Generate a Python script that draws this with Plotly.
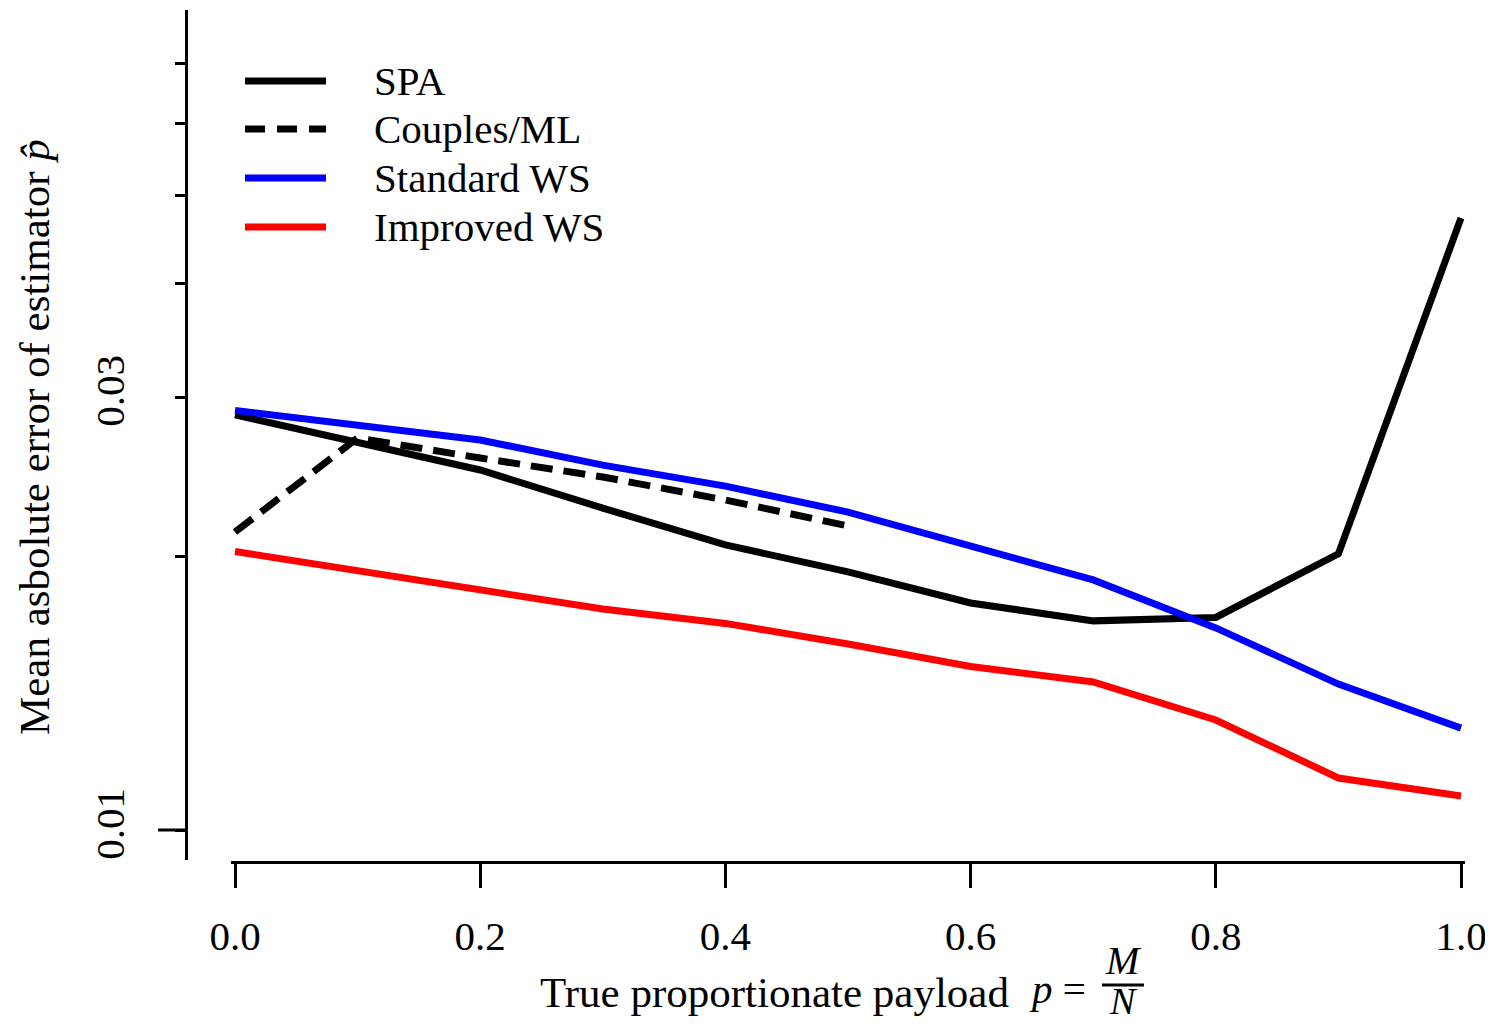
import plotly.graph_objects as go

# ---------------- data ----------------
payload = [0.0, 0.1, 0.2, 0.3, 0.4, 0.5, 0.6, 0.7, 0.8, 0.9, 1.0]
spa = [0.02867, 0.02676, 0.02493, 0.02263, 0.02061, 0.01925, 0.01779, 0.01700, 0.01715, 0.02015, 0.04725]
couples_x = [0.0, 0.1, 0.2, 0.3, 0.4, 0.5]
couples = [0.02130, 0.02704, 0.02570, 0.02449, 0.02310, 0.02163]
standard_ws = [0.02900, 0.02795, 0.02690, 0.02524, 0.02393, 0.02240, 0.02056, 0.01886, 0.01670, 0.01448, 0.01295]
improved_ws = [0.02027, 0.01930, 0.01839, 0.01752, 0.01689, 0.01603, 0.01514, 0.01456, 0.01322, 0.01141, 0.01090]

x_ticks = [0.0, 0.2, 0.4, 0.6, 0.8, 1.0]
x_ticktext = ["0.0", "0.2", "0.4", "0.6", "0.8", "1.0"]
y_ticks = [0.01, 0.03]
y_ticktext = ["0.01", "0.03"]
y_minor = [0.02, 0.04, 0.05, 0.06, 0.07]

series_names = ["SPA", "Couples/ML", "Standard WS", "Improved WS"]
series_colors = ["black", "black", "#0000ff", "#ff0000"]
series_dash = ["solid", "22px,11px", "solid", "solid"]

# ---------------- layout helpers ----------------
OFF = 8                      # default page body margin
W, H = 1493 - OFF, 1027 - OFF
FONT = "Liberation Serif"
FS = 41
FS_TITLE = 43


def px(x):
    return (x - OFF) / W


def py(y):
    return 1 - (y - OFF) / H


fig = go.Figure()
fig.add_trace(go.Scatter(x=payload, y=spa, mode="lines", name=series_names[0],
                         line=dict(color=series_colors[0], width=7, dash=series_dash[0])))
fig.add_trace(go.Scatter(x=couples_x, y=couples, mode="lines", name=series_names[1],
                         line=dict(color=series_colors[1], width=7, dash=series_dash[1])))
fig.add_trace(go.Scatter(x=payload, y=standard_ws, mode="lines", name=series_names[2],
                         line=dict(color=series_colors[2], width=7, dash=series_dash[2])))
fig.add_trace(go.Scatter(x=payload, y=improved_ws, mode="lines", name=series_names[3],
                         line=dict(color=series_colors[3], width=7, dash=series_dash[3])))

pad = 0.003
x0px, x1px = 235, 1461
unit = x1px - x0px

fig.update_layout(
    width=W, height=H, autosize=False,
    margin=dict(l=0, r=0, t=0, b=0, autoexpand=False),
    paper_bgcolor="white", plot_bgcolor="white",
    showlegend=False,
    font=dict(family=FONT, size=FS, color="black"),
    xaxis=dict(
        domain=[px(x0px - pad * unit), px(x1px + pad * unit)],
        range=[-pad, 1 + pad],
        anchor="free", position=py(862),
        showline=True, linewidth=3, linecolor="black",
        showgrid=False, zeroline=False, automargin=False,
        ticks="outside", ticklen=24, tickwidth=3, tickcolor="black",
        tickmode="array", tickvals=x_ticks, ticktext=x_ticktext,
        tickfont=dict(family=FONT, size=FS),
        ticklabelstandoff=13,
    ),
    yaxis=dict(
        type="log",
        domain=[py(860), py(10)],
        range=[-2.03306, -1.09642],
        anchor="free", position=px(186),
        showline=True, linewidth=3, linecolor="black",
        showgrid=False, zeroline=False, automargin=False,
        ticks="outside", ticklen=10, tickwidth=3, tickcolor="black",
        tickmode="array", tickvals=y_ticks, ticktext=y_ticktext,
        tickangle=-90,
        tickfont=dict(family=FONT, size=FS),
        ticklabelstandoff=35,
        minor=dict(tickmode="array", tickvals=y_minor, ticklen=10, tickwidth=3,
                   tickcolor="black", ticks="outside", showgrid=False),
    ),
)

shapes = []
annotations = []

# longer tick at 0.01
shapes.append(dict(type="line", xref="paper", yref="paper",
                   x0=px(158), x1=px(186), y0=py(830), y1=py(830),
                   line=dict(color="black", width=3)))

# manual legend
leg_y = [81, 129, 178, 227]
for name, col, dash, ly in zip(series_names, series_colors, series_dash, leg_y):
    shapes.append(dict(type="line", xref="paper", yref="paper",
                       x0=px(245), x1=px(326), y0=py(ly), y1=py(ly),
                       line=dict(color=col, width=7,
                                 dash="20px,12px" if dash != "solid" else "solid")))
    annotations.append(dict(xref="paper", yref="paper", x=px(372), y=py(ly),
                            xanchor="left", yanchor="middle", showarrow=False,
                            text=name, font=dict(family=FONT, size=FS)))

# y axis title
annotations.append(dict(xref="paper", yref="paper", x=px(34), y=py(437),
                        xanchor="center", yanchor="middle", showarrow=False,
                        textangle=-90,
                        text="Mean asbolute error of estimator <i>p̂</i>",
                        font=dict(family=FONT, size=FS_TITLE)))

# x axis title with fraction
annotations.append(dict(xref="paper", yref="paper", x=px(538), y=py(992),
                        xanchor="left", yanchor="middle", showarrow=False,
                        text="True proportionate payload",
                        font=dict(family=FONT, size=FS_TITLE)))
annotations.append(dict(xref="paper", yref="paper", x=px(1027), y=py(989),
                        xanchor="left", yanchor="middle", showarrow=False,
                        text="<i>p</i> =",
                        font=dict(family=FONT, size=FS)))
annotations.append(dict(xref="paper", yref="paper", x=px(1123), y=py(960),
                        xanchor="center", yanchor="middle", showarrow=False,
                        text="<i>M</i>",
                        font=dict(family=FONT, size=40)))
annotations.append(dict(xref="paper", yref="paper", x=px(1123), y=py(1001),
                        xanchor="center", yanchor="middle", showarrow=False,
                        text="<i>N</i>",
                        font=dict(family=FONT, size=38)))
shapes.append(dict(type="line", xref="paper", yref="paper",
                   x0=px(1102), x1=px(1144), y0=py(985), y1=py(985),
                   line=dict(color="black", width=3)))

fig.update_layout(shapes=shapes, annotations=annotations)

fig.write_html("out.html")
